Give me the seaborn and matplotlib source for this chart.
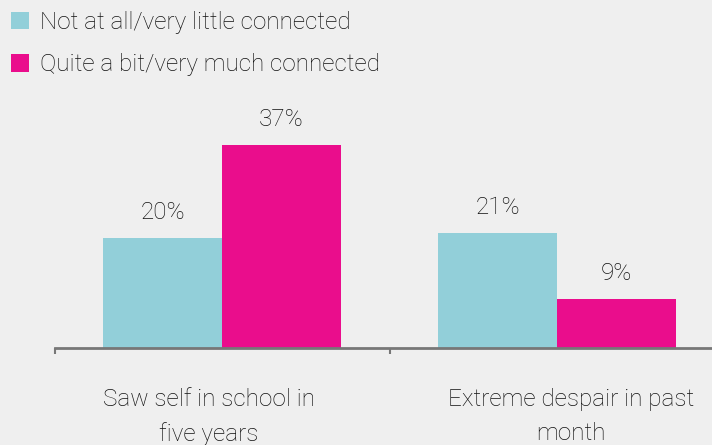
import matplotlib
matplotlib.use("Agg")
import matplotlib.pyplot as plt
import matplotlib.transforms as mtransforms
import seaborn as sns
import pandas as pd

# Survey results: share of students by school connectedness
categories = ["Saw self in school in\nfive years", "Extreme despair in past\nmonth"]
groups = ["Not at all/very little connected", "Quite a bit/very much connected"]
not_connected = [20, 21]
connected = [37, 9]

df = pd.DataFrame({
    "category": categories * 2,
    "group": [groups[0]] * 2 + [groups[1]] * 2,
    "value": not_connected + connected,
})

BG = "#efefef"
TEAL = "#92cfd9"
MAGENTA = "#ea0d8c"
TEXT = "#111111"
FS = 17.5

sns.set_theme(style="white")
plt.rcParams["font.family"] = ["Roboto", "DejaVu Sans"]
plt.rcParams["font.weight"] = "light"

fig = plt.figure(figsize=(7.12, 4.45), dpi=100, facecolor=BG)
ax = fig.add_axes([54.5 / 712, (445 - 348) / 445, 670 / 712, 247.5 / 445])
ax.set_facecolor(BG)

sns.barplot(data=df, x="category", y="value", hue="group",
            palette=[TEAL, MAGENTA], width=0.71, gap=0, saturation=1,
            edgecolor="none", ax=ax)

ax.set_xlim(-0.5, 1.5)
ax.set_ylim(0, 45)

for cont in ax.containers:
    ax.bar_label(cont, labels=[f"{v:.0f}%" for v in cont.datavalues],
                 padding=10, fontsize=FS, color=TEXT, fontweight="light")

# axis styling: only a gray baseline with boundary ticks
for side in ["top", "right", "left"]:
    ax.spines[side].set_visible(False)
ax.spines["bottom"].set_color("#777777")
ax.spines["bottom"].set_linewidth(2)
ax.set_yticks([])
ax.set_xlabel("")
ax.set_ylabel("")

ax.set_xticks([0, 1])
ax.set_xticklabels(categories, fontsize=FS, color=TEXT, fontweight="light",
                   linespacing=1.6)
ax.tick_params(axis="x", which="major", length=0, pad=29)
ax.set_xticks([-0.5, 0.5], minor=True)
ax.tick_params(axis="x", which="minor", bottom=True, length=4, width=1.5,
               color="#777777", direction="out")

# nudge the wrapped category labels sideways
for lbl, dx in zip(ax.get_xticklabels(), [-13, 14]):
    lbl.set_transform(lbl.get_transform() +
                      mtransforms.ScaledTranslation(dx / 100, 0, fig.dpi_scale_trans))

handles, labels = ax.get_legend_handles_labels()
leg = ax.legend(handles, labels, loc="upper left",
                bbox_to_anchor=(0.0, 1.0), bbox_transform=fig.transFigure,
                frameon=False, fontsize=FS, handlelength=0.75, handleheight=0.75,
                handletextpad=0.45, labelspacing=0.8, borderaxespad=0.25,
                borderpad=0.2)
for t in leg.get_texts():
    t.set_color(TEXT)
    t.set_fontweight("light")

fig.savefig("out.png", dpi=100, facecolor=BG)
